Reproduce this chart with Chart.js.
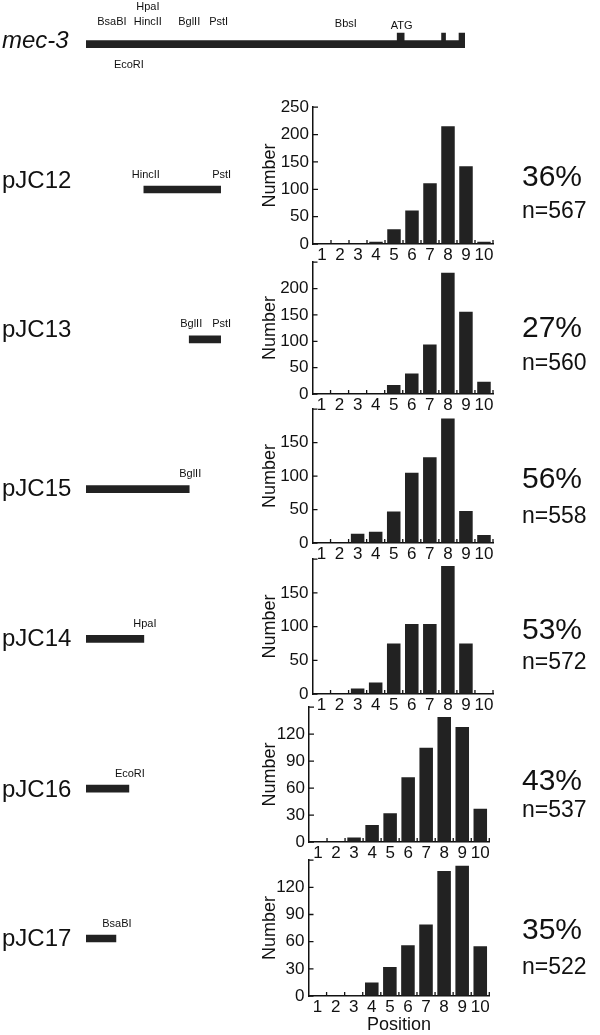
<!DOCTYPE html>
<html>
<head>
<meta charset="utf-8">
<script src="https://cdn.jsdelivr.net/npm/chart.js@4.4.1/dist/chart.umd.min.js"></script>
<style>
  html, body { margin: 0; padding: 0; background: #fff; }
  #page { position: relative; width: 600px; height: 1035px; overflow: hidden; }
  #page canvas { position: absolute; }
</style>
</head>
<body>
<div id="page"></div>
<script>
// --- data ---
const positions = ['1', '2', '3', '4', '5', '6', '7', '8', '9', '10'];
const plasmids = ['pJC12', 'pJC13', 'pJC15', 'pJC14', 'pJC16', 'pJC17'];
const countsPJC12 = [0, 0, 0, 4, 27, 61, 111, 215, 142, 4];
const countsPJC13 = [0, 0, 0, 0, 17, 39, 94, 230, 156, 23];
const countsPJC15 = [0, 0, 14, 17, 47, 105, 128, 186, 48, 12];
const countsPJC14 = [0, 0, 8, 17, 75, 104, 104, 190, 75, 0];
const countsPJC16 = [0, 0, 5, 19, 32, 72, 105, 139, 128, 37];
const countsPJC17 = [0, 0, 1, 15, 32, 56, 79, 138, 144, 55];
const percents = ['36%', '27%', '56%', '53%', '43%', '35%'];
const nTotals = [567, 560, 558, 572, 537, 522];
const yMax = [250, 250, 200, 200, 150, 150];
const yStep = [50, 50, 50, 50, 30, 30];

// mec-3 map, in map units along the gene
const geneSpan = [0, 7.6];
const exonSpans = [[6.24, 6.38], [7.13, 7.21], [7.48, 7.6]];
const siteNames = ['BsaBI', 'EcoRI', 'HpaI', 'HincII', 'BglII', 'PstI', 'BbsI'];
const sitePos = [0.6, 0.86, 1.16, 1.16, 2.07, 2.7, 5.21];
const constructStart = [1.16, 2.07, 0, 0, 0, 0];
const constructEnd = [2.7, 2.7, 2.07, 1.16, 0.86, 0.6];
const constructStartSite = ['HincII', 'BglII', '', '', '', ''];
const constructEndSite = ['PstI', 'PstI', 'BglII', 'HpaI', 'EcoRI', 'BsaBI'];

// --- layout / style ---
const FONT = '"Liberation Sans", Arial, Helvetica, sans-serif';
const INK = '#111';
const BAR = '#222';
const plotTop = [105, 260, 407, 557.3, 705, 858];
const plotBottom = [244, 394.3, 542.7, 694.3, 841.7, 995.7];
const plotLeft = [313, 312.5, 312.5, 312.5, 309, 308.5];
const plotRight = [493, 493, 493, 493, 489.3, 489.3];
const pctShift = [79, 75, 79, 80, 83, 79];
const nShift = [111, 108, 114, 110, 110, 114];
const siteBaseline = { BsaBI: 25, HpaI: 10, HincII: 25, EcoRI: 68.3, BglII: 25, PstI: 25, BbsI: 26.5 };
const siteNudge = { BsaBI: -4, HpaI: 4, HincII: 4, PstI: -2 };
const nameShift = [-1.2, -2.6, 6.9, 7.1, 8.3, 7.5];

const page = document.getElementById('page');
function makeCanvas(left, top, w, h) {
  const c = document.createElement('canvas');
  c.width = w; c.height = h;
  c.style.left = left + 'px'; c.style.top = top + 'px';
  c.style.width = w + 'px'; c.style.height = h + 'px';
  page.appendChild(c);
  return c;
}

const quiet = { legend: { display: false }, tooltip: { enabled: false } };

// gene map on top
const geneLabels = {
  id: 'geneLabels',
  afterDraw(chart) {
    const { ctx, scales: { x } } = chart;
    ctx.save();
    ctx.fillStyle = INK;
    ctx.textBaseline = 'alphabetic';
    ctx.font = 'italic 24px ' + FONT;
    ctx.textAlign = 'left';
    ctx.fillText('mec-3', 2, 47.7);
    ctx.font = '11px ' + FONT;
    ctx.textAlign = 'center';
    siteNames.forEach((s, i) => {
      ctx.fillText(s, x.getPixelForValue(sitePos[i]) + (siteNudge[s] || 0), siteBaseline[s]);
    });
    const ex = exonSpans[0];
    ctx.fillText('ATG', x.getPixelForValue((ex[0] + ex[1]) / 2) + 1, 28.5);
    ctx.restore();
  }
};

new Chart(makeCanvas(0, 0, 600, 80), {
  type: 'bar',
  data: {
    labels: ['exon', 'gene'],
    datasets: [
      { data: exonSpans.map(s => ({ x: s, y: 'exon' })), backgroundColor: BAR, barThickness: 9, grouped: false },
      { data: [{ x: geneSpan, y: 'gene' }], backgroundColor: BAR, barThickness: 7, grouped: false }
    ]
  },
  options: {
    indexAxis: 'y', responsive: false, animation: false,
    layout: { autoPadding: false, padding: { left: 86, right: 135, top: 32.65, bottom: 31.95 } },
    scales: {
      x: { type: 'linear', min: geneSpan[0], max: geneSpan[1], display: false },
      y: { display: false }
    },
    plugins: quiet
  },
  plugins: [geneLabels]
});

// constructs on the left
const constructLabels = {
  id: 'constructLabels',
  afterDraw(chart) {
    const { ctx, scales: { x, y } } = chart;
    ctx.save();
    ctx.fillStyle = INK;
    ctx.textBaseline = 'alphabetic';
    plasmids.forEach((p, i) => {
      const cy = y.getPixelForValue(i);
      ctx.font = '24px ' + FONT;
      ctx.textAlign = 'left';
      ctx.fillText(p, 2, cy + nameShift[i]);
      ctx.font = '11px ' + FONT;
      ctx.textAlign = 'center';
      if (constructStartSite[i]) ctx.fillText(constructStartSite[i], x.getPixelForValue(constructStart[i]) + 2, cy - 12);
      if (constructEndSite[i]) ctx.fillText(constructEndSite[i], x.getPixelForValue(constructEnd[i]) + 1, cy - 12);
    });
    ctx.restore();
  }
};

new Chart(makeCanvas(0, 80, 600, 955), {
  type: 'bar',
  data: {
    labels: plasmids,
    datasets: [{
      data: plasmids.map((p, i) => [constructStart[i], constructEnd[i]]),
      backgroundColor: BAR, barThickness: 7
    }]
  },
  options: {
    indexAxis: 'y', responsive: false, animation: false,
    layout: { autoPadding: false, padding: { left: 86, right: 135, top: 34.6, bottom: 21.6 } },
    scales: {
      x: { type: 'linear', min: geneSpan[0], max: geneSpan[1], display: false },
      y: { display: false }
    },
    plugins: quiet
  },
  plugins: [constructLabels]
});

// histograms
const inwardTicks = {
  id: 'inwardTicks',
  afterDraw(chart) {
    const { ctx, scales: { x, y }, chartArea: a } = chart;
    ctx.save();
    ctx.strokeStyle = INK;
    ctx.lineWidth = 1.3;
    ctx.beginPath();
    for (let i = 0; i < positions.length; i++) {
      const px = x.getPixelForValue(i + 0.5);
      ctx.moveTo(px, a.bottom); ctx.lineTo(px, a.bottom - 4);
    }
    y.ticks.forEach(t => {
      const py = y.getPixelForValue(t.value);
      ctx.moveTo(a.left, py); ctx.lineTo(a.left + 5, py);
    });
    ctx.stroke();
    ctx.restore();
  }
};

const sideNote = {
  id: 'sideNote',
  afterDraw(chart, args, opts) {
    const { ctx, chartArea: a } = chart;
    ctx.save();
    ctx.fillStyle = INK;
    ctx.textAlign = 'left';
    ctx.textBaseline = 'alphabetic';
    ctx.font = '30px ' + FONT;
    ctx.fillText(opts.pct, 272, a.top + opts.pctY);
    ctx.font = '23px ' + FONT;
    ctx.fillText('n=' + opts.n, 272, a.top + opts.nY);
    ctx.restore();
  }
};

const allCounts = [countsPJC12, countsPJC13, countsPJC15, countsPJC14, countsPJC16, countsPJC17];

allCounts.forEach((counts, i) => {
  const last = i === allCounts.length - 1;
  const axisH = last ? 40 : 22;
  const padTop = 12;
  const h = Math.round(padTop + (plotBottom[i] - plotTop[i]) + axisH);
  const canvas = makeCanvas(250, plotTop[i] - padTop, 350, h);
  const yAxisW = plotLeft[i] - 250;
  new Chart(canvas, {
    type: 'bar',
    data: {
      labels: positions,
      datasets: [{ data: counts, backgroundColor: BAR, barPercentage: 0.75, categoryPercentage: 1 }]
    },
    options: {
      responsive: false, animation: false,
      layout: { autoPadding: false, padding: { top: padTop, right: 600 - plotRight[i], left: 0, bottom: 0 } },
      plugins: Object.assign({}, quiet, { sideNote: { pct: percents[i], n: nTotals[i], pctY: pctShift[i], nY: nShift[i] } }),
      scales: {
        x: {
          grid: { drawOnChartArea: false, drawTicks: false },
          border: { color: INK, width: 1.5 },
          ticks: { color: INK, font: { family: FONT, size: 17 }, padding: 1, autoSkip: false, maxRotation: 0 },
          title: { display: last, text: 'Position', color: INK, font: { family: FONT, size: 18 }, padding: { top: 0, bottom: 0 } },
          afterFit: s => { s.height = axisH; }
        },
        y: {
          min: 0, max: yMax[i],
          grid: { drawOnChartArea: false, drawTicks: false },
          border: { color: INK, width: 1.5 },
          ticks: {
            stepSize: yStep[i], color: INK, padding: 4,
            font: { family: FONT, size: 17 },
            callback: (v) => (i > 0 && v === yMax[i]) ? '' : v
          },
          title: { display: true, text: 'Number', color: INK, font: { family: FONT, size: 18 }, padding: { top: 9, bottom: 0 } },
          afterFit: s => { s.width = yAxisW; }
        }
      }
    },
    plugins: [inwardTicks, sideNote]
  });
});
</script>
</body>
</html>
